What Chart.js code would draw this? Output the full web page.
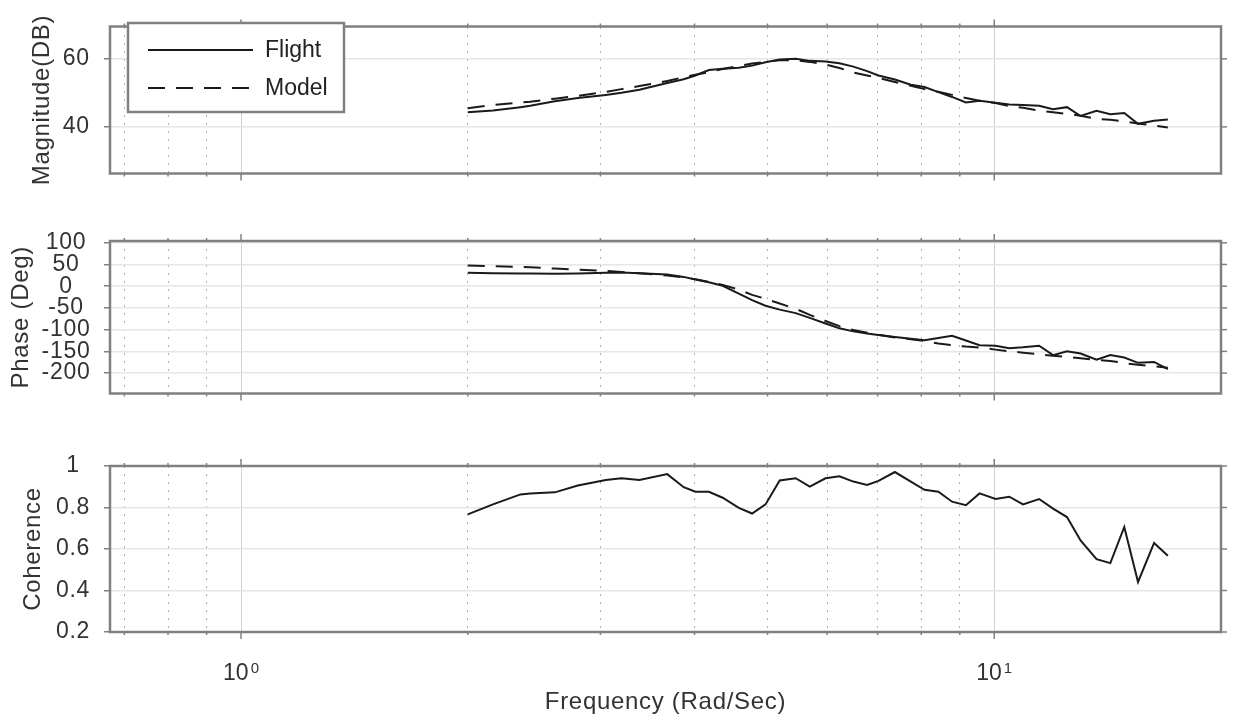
<!DOCTYPE html>
<html>
<head>
<meta charset="utf-8">
<title>Frequency response</title>
<script src="https://cdn.jsdelivr.net/npm/chart.js@4.4.1/dist/chart.umd.min.js"></script>
<style>
  html, body { margin: 0; padding: 0; background: #fff; }
  #wrap { position: relative; width: 1233px; height: 719px; }
  .panel { position: absolute; left: 0; width: 1233px; }
</style>
</head>
<body>
<div id="wrap">
  <div class="panel" style="top:0;height:200px"><canvas id="magChart"></canvas></div>
  <div class="panel" style="top:200px;height:220px"><canvas id="phaseChart"></canvas></div>
  <div class="panel" style="top:420px;height:299px"><canvas id="cohChart"></canvas></div>
</div>
<script>
// frequency points (rad/s)
const freq = [2.00, 2.16, 2.35, 2.42, 2.61, 2.80, 3.05, 3.20, 3.38, 3.68,
    3.87, 4.01, 4.18, 4.36, 4.58, 4.77, 4.97, 5.19, 5.45, 5.69,
    5.97, 6.23, 6.50, 6.78, 7.02, 7.38, 7.75, 8.08, 8.43, 8.79,
    9.17, 9.56, 10.04, 10.47, 10.92, 11.47, 11.97, 12.49, 13.02, 13.67,
    14.26, 14.88, 15.52, 16.30, 17.00];

// magnitude (dB)
const magFlight = [44.3, 44.8, 45.8, 46.2, 47.5, 48.5, 49.4, 50.0, 50.9, 52.9,
    54.0, 55.1, 56.7, 57.1, 57.4, 58.0, 59.0, 59.8, 60.0, 59.4,
    59.2, 58.7, 57.7, 56.4, 55.1, 53.9, 52.4, 51.7, 50.2, 48.8,
    47.2, 47.7, 47.1, 46.6, 46.4, 46.2, 45.2, 45.8, 43.2, 44.7,
    43.7, 44.1, 40.9, 41.8, 42.2];
const magModel = [45.5, 46.4, 47.2, 47.4, 48.3, 49.1, 50.3, 51.1, 52.0, 53.5,
    54.6, 55.3, 56.1, 57.0, 57.9, 58.6, 59.1, 59.6, 59.6, 59.1,
    58.3, 57.3, 56.0, 55.1, 54.4, 53.2, 52.1, 51.1, 50.3, 49.4,
    48.5, 47.7, 47.0, 46.1, 45.6, 44.8, 44.3, 43.8, 43.3, 42.3,
    42.1, 41.6, 41.0, 40.4, 39.8];

// phase (deg)
const phaseFlight = [30.7, 30.0, 29.3, 29.0, 28.6, 29.3, 30.7, 31.4, 30.0, 27.1,
    21.4, 15.5, 9.0, 1.0, -17, -32, -45, -54, -62, -73,
    -86, -97, -104, -109, -112.5, -117, -121, -124.3, -119.3, -114.3,
    -125, -135.7, -137.1, -142.9, -140.7, -137.1, -158.6, -150, -155, -169.3,
    -158.6, -164.3, -176.4, -174.3, -190.7];
const phaseModel = [47.7, 46, 44.5, 43.5, 40.5, 38, 35, 32.5, 30, 24.5,
    20, 16, 10, 3, -8, -20, -29, -40, -52, -66,
    -80, -92, -101, -107, -112, -118, -122, -126, -132, -136,
    -139, -141, -146, -150, -153, -157, -160, -163, -166, -170,
    -172, -177, -181, -184, -188];

// coherence
const coherence = [0.767, 0.815, 0.863, 0.868, 0.873, 0.906, 0.933, 0.941, 0.933, 0.961,
    0.898, 0.876, 0.876, 0.847, 0.798, 0.771, 0.815, 0.930, 0.941, 0.901,
    0.941, 0.950, 0.925, 0.909, 0.928, 0.971, 0.925, 0.885, 0.876, 0.828,
    0.811, 0.868, 0.841, 0.852, 0.815, 0.841, 0.795, 0.754, 0.641, 0.551,
    0.532, 0.706, 0.441, 0.629, 0.567];

// axis ticks
const magTicks = [40, 60];
const phaseTicks = [-200, -150, -100, -50, 0, 50, 100];
const cohTicks = [0.2, 0.4, 0.6, 0.8, 1];
const freqMajor = [1, 10];
const freqMinor = [0.7, 0.8, 0.9, 2, 3, 4, 5, 6, 7, 8, 9];
const freqExponents = ['0', '1'];

const FONT = '"Liberation Sans", Arial, Helvetica, sans-serif';
const TEXT = '#333333';
const EDGE = '#808080';

Chart.defaults.font.family = FONT;
Chart.defaults.color = TEXT;

function pts(ys) {
    return freq.map((f, i) => ({ x: f, y: ys[i] }));
}

function line(ctx, x1, y1, x2, y2) {
    ctx.beginPath();
    ctx.moveTo(x1, y1);
    ctx.lineTo(x2, y2);
    ctx.stroke();
}

// slightly looser text, like the Helvetica output of the plotting tool
const spacing = {
    id: 'spacing',
    beforeDraw(chart) { chart.ctx.letterSpacing = '0.7px'; },
    afterDraw(chart) { chart.ctx.letterSpacing = '0px'; }
};

// box around the plot area plus the tick marks
const frame = {
    id: 'frame',
    afterDraw(chart) {
        const { ctx, chartArea: a, scales } = chart;
        ctx.save();
        ctx.strokeStyle = EDGE;
        ctx.lineWidth = 1.5;
        scales.y.ticks.forEach(t => {
            const y = scales.y.getPixelForValue(t.value);
            line(ctx, a.right, y, a.right + 6, y);
        });
        freqMajor.forEach(f => {
            const x = scales.x.getPixelForValue(f);
            line(ctx, x, a.top - 7, x, a.top);
            line(ctx, x, a.bottom, x, a.bottom + 7);
        });
        freqMinor.forEach(f => {
            const x = scales.x.getPixelForValue(f);
            line(ctx, x, a.top - 3, x, a.top);
            line(ctx, x, a.bottom, x, a.bottom + 3);
        });
        ctx.lineWidth = 2.5;
        ctx.strokeRect(a.left, a.top, a.right - a.left, a.bottom - a.top);
        ctx.restore();
    }
};

// legend box in the upper left of the magnitude plot
const legendBox = {
    id: 'legendBox',
    afterDraw(chart) {
        const ctx = chart.ctx;
        const x0 = 128, y0 = 23, w = 216, h = 89;
        ctx.save();
        ctx.letterSpacing = '0px';
        ctx.fillStyle = '#fff';
        ctx.fillRect(x0, y0, w, h);
        ctx.strokeStyle = EDGE;
        ctx.lineWidth = 2.5;
        ctx.strokeRect(x0, y0, w, h);
        chart.data.datasets.forEach((ds, i) => {
            const y = y0 + 27 + i * 38;
            ctx.strokeStyle = ds.borderColor;
            ctx.lineWidth = ds.borderWidth;
            ctx.setLineDash(ds.borderDash || []);
            line(ctx, x0 + 20, y, x0 + 125, y);
            ctx.setLineDash([]);
            ctx.fillStyle = '#222';
            ctx.font = '23px ' + FONT;
            ctx.textBaseline = 'middle';
            ctx.fillText(ds.label, x0 + 137, y + 1);
        });
        ctx.restore();
    }
};

// 10^n labels under the bottom axis
const powerLabels = {
    id: 'powerLabels',
    afterDraw(chart) {
        const { ctx, chartArea: a, scales } = chart;
        ctx.save();
        ctx.letterSpacing = '0px';
        ctx.fillStyle = TEXT;
        ctx.textBaseline = 'alphabetic';
        freqMajor.forEach((f, i) => {
            const x = scales.x.getPixelForValue(f);
            ctx.font = '23px ' + FONT;
            const wBase = ctx.measureText('10').width;
            ctx.font = '15px ' + FONT;
            const wExp = ctx.measureText(freqExponents[i]).width;
            const left = x - (wBase + 2 + wExp) / 2;
            ctx.font = '23px ' + FONT;
            ctx.fillText('10', left, a.bottom + 48);
            ctx.font = '15px ' + FONT;
            ctx.fillText(freqExponents[i], left + wBase + 2, a.bottom + 41);
        });
        ctx.restore();
    }
};

function xScales(height, title) {
    return {
        x: {
            type: 'logarithmic',
            position: 'bottom',
            min: 0.67,
            max: 20,
            afterBuildTicks: s => { s.ticks = freqMajor.map(v => ({ value: v })); },
            afterFit: s => { s.height = height; },
            ticks: { display: false },
            grid: { color: '#d0d0d0', lineWidth: 1, drawTicks: false },
            border: { display: false },
            title: title ? {
                display: true,
                text: title,
                color: TEXT,
                font: { size: 24 },
                padding: { top: 0, bottom: 2 }
            } : { display: false }
        },
        xMinor: {
            type: 'logarithmic',
            position: 'top',
            min: 0.67,
            max: 20,
            afterBuildTicks: s => { s.ticks = freqMinor.map(v => ({ value: v })); },
            afterFit: s => { s.height = 0; },
            ticks: { display: false },
            grid: { color: '#b0b0b0', lineWidth: 1, drawTicks: false },
            border: { display: false, dash: [2, 6] }
        }
    };
}

// titleGap: distance from the canvas edge to the rotated axis title
function yScale(min, max, tickValues, title, titleGap) {
    return {
        min: min,
        max: max,
        afterBuildTicks: s => { s.ticks = tickValues.map(v => ({ value: v })); },
        afterFit: s => { s.width = 110; },
        ticks: {
            callback: v => String(v),
            color: TEXT,
            font: { size: 23, lineHeight: 1 },
            padding: 15,
            crossAlign: 'center'
        },
        grid: { color: '#e6e6e6', lineWidth: 1.5, tickLength: 6, tickColor: EDGE, tickWidth: 1.5 },
        border: { display: false },
        title: {
            display: true,
            text: title,
            color: TEXT,
            font: { size: 24 },
            padding: { top: titleGap, bottom: 0 }
        }
    };
}

function flightSet(ys) {
    return {
        label: 'Flight',
        data: pts(ys),
        borderColor: '#1a1a1a',
        borderWidth: 2,
        pointRadius: 0,
        tension: 0,
        xAxisID: 'x'
    };
}

function modelSet(ys) {
    return {
        label: 'Model',
        data: pts(ys),
        borderColor: '#1a1a1a',
        borderWidth: 2,
        borderDash: [17, 11],
        pointRadius: 0,
        tension: 0,
        xAxisID: 'x'
    };
}

function baseOptions(padTop, scales) {
    return {
        responsive: true,
        maintainAspectRatio: false,
        animation: false,
        layout: { padding: { top: padTop, right: 12, bottom: 0, left: 0 } },
        plugins: { legend: { display: false }, tooltip: { enabled: false } },
        scales: scales
    };
}

// Magnitude
new Chart(document.getElementById('magChart'), {
    type: 'line',
    data: { datasets: [flightSet(magFlight), modelSet(magModel)] },
    options: baseOptions(14, Object.assign(xScales(17), {
        y: yScale(26.3, 69.5, magTicks, 'Magnitude(DB)', 28)
    })),
    plugins: [spacing, frame, legendBox]
});

// Phase
new Chart(document.getElementById('phaseChart'), {
    type: 'line',
    data: { datasets: [flightSet(phaseFlight), modelSet(phaseModel)] },
    options: baseOptions(41, Object.assign(xScales(13), {
        y: yScale(-247, 104, phaseTicks, 'Phase (Deg)', 7)
    })),
    plugins: [spacing, frame]
});

// Coherence
new Chart(document.getElementById('cohChart'), {
    type: 'line',
    data: { datasets: [flightSet(coherence)] },
    options: baseOptions(46, Object.assign(xScales(87, 'Frequency (Rad/Sec)'), {
        y: yScale(0.2, 1, cohTicks, 'Coherence', 19)
    })),
    plugins: [spacing, frame, powerLabels]
});
</script>
</body>
</html>
